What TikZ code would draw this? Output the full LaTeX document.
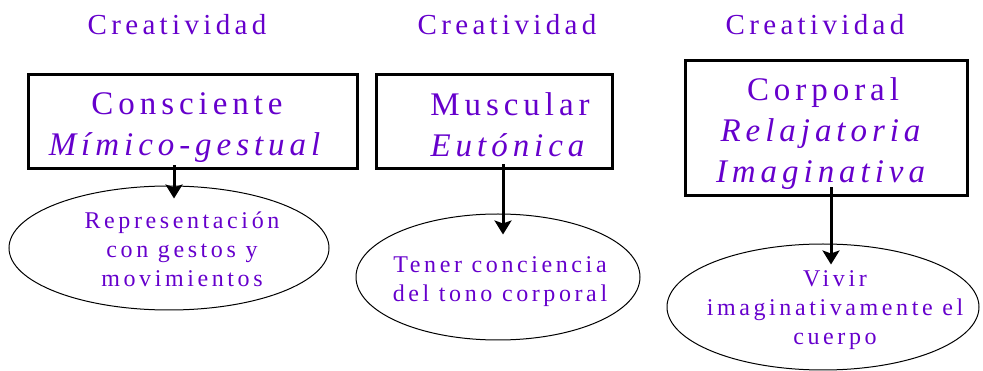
\documentclass[tikz,border=0pt]{standalone}
\usepackage{fontspec}
\setmainfont{Liberation Serif}[LetterSpace=15]
\usetikzlibrary{shapes,positioning,arrows.meta}
\definecolor{lila}{RGB}{102,0,204}

\begin{document}
\begin{tikzpicture}[x=1pt, y=-1pt]

        % One unit is one pixel of the sheet, y going down
        \tikzset{
            caja/.style={draw, line width=3pt, inner sep=0pt},
            globo/.style={draw, ellipse, line width=1pt, inner sep=0pt},
            titulo/.style={text=lila, font=\fontsize{29}{35}\selectfont, anchor=base},
            texto/.style={text=lila, align=center, inner sep=0pt,
                font=\fontsize{33}{41}\selectfont},
            nota/.style={text=lila, align=center, inner sep=0pt,
                font=\fontsize{24}{29}\selectfont},
            flecha/.style={line width=3pt, -{Stealth[length=14pt, width=17pt, inset=3pt]}},
        }

        \useasboundingbox (0, 0) rectangle (983, 371);

        % Headings over the three columns
        \node[titulo] (h1) at (177, 35) {Creatividad};
        \node[titulo] (h2) at (507, 35) {Creatividad};
        \node[titulo] (h3) at (815, 35) {Creatividad};

        % Boxes
        \node[caja, minimum width=329pt, minimum height=94pt] (b1) at (192.5, 122) {};
        \node[caja, minimum width=236pt, minimum height=94pt] (b2) at (494, 122) {};
        \node[caja, minimum width=282pt, minimum height=135pt] (b3) at (826, 128.5) {};

        \node[texto] (t1) at (187, 127.5) {Consciente\\\textit{Mímico-gestual}};
        \node[texto] (t2) at (510, 125) {Muscular\\\textit{Eutónica}};
        \node[texto] (t3) at (823, 133.4) {Corporal\\\textit{Relajatoria}\\\textit{Imaginativa}};

        % Ellipses
        \node[globo, minimum width=320pt, minimum height=124pt] (e1) at (169, 248) {};
        \node[globo, minimum width=284pt, minimum height=126pt] (e2) at (498, 277) {};
        \node[globo, minimum width=312pt, minimum height=126pt] (e3) at (823, 307) {};

        \node[nota] (n1) at (182, 249.5) {Representación\\con gestos y\\movimientos};
        \node[nota] (n2) at (500, 282) {Tener conciencia\\del tono corporal};
        \node[nota] (n3) at (835, 310.6) {Vivir\\imaginativamente el\\cuerpo};

        % Arrows from each box down into its ellipse
        \draw[flecha] ([xshift=-18.5pt, yshift=5pt]b1.south) -- ([xshift=5pt, yshift=-13pt]e1.north);
        \draw[flecha] ([xshift=9pt, yshift=6pt]b2.south) -- ([xshift=5pt, yshift=-21pt]e2.north);
        \draw[flecha] ([xshift=5pt, yshift=10pt]b3.south) -- ([xshift=8pt, yshift=-21pt]e3.north);
\end{tikzpicture}
\end{document}
